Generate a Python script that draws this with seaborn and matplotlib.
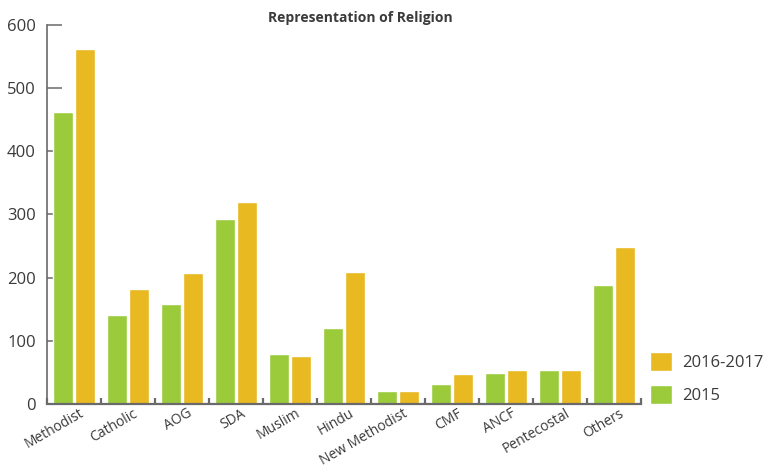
import matplotlib
matplotlib.use("Agg")
import matplotlib.pyplot as plt
import matplotlib.transforms as mtransforms
import seaborn as sns
import pandas as pd
from matplotlib.patches import Patch
from matplotlib.ticker import FixedLocator

# Membership counts by religion
religions = ["Methodist", "Catholic", "AOG", "SDA", "Muslim", "Hindu",
             "New Methodist", "CMF", "ANCF", "Pentecostal", "Others"]
counts_2015 = [462, 141, 158, 293, 79, 120, 21, 32, 49, 54, 188]
counts_2016_2017 = [562, 182, 207, 320, 76, 209, 21, 47, 54, 54, 248]
periods = ["2015", "2016-2017"]
y_ticks = [0, 100, 200, 300, 400, 500, 600]

GREEN = "#9bca3b"
YELLOW = "#e8b921"
TEXT = "#3a3a3a"
AXIS = "#6a6a6a"

df = pd.DataFrame({
    "religion": religions * 2,
    "period": [periods[0]] * len(religions) + [periods[1]] * len(religions),
    "count": counts_2015 + counts_2016_2017,
})

sns.set_theme(style="white")
plt.rcParams["font.family"] = ["Open Sans", "DejaVu Sans"]

fig = plt.figure(figsize=(7.76, 4.69), dpi=100)
W, H = 776, 469
ax = fig.add_axes([47 / W, (H - 404) / H, (641 - 47) / W, (404 - 25) / H])

sns.barplot(data=df, x="religion", y="count", hue="period",
            order=religions, hue_order=periods,
            palette=[GREEN, YELLOW], width=0.78, gap=0.05,
            saturation=1, errorbar=None, legend=False, ax=ax)

ax.set_axisbelow(True)
ax.set_xlim(-0.5, len(religions) - 0.5)
ax.set_ylim(0, 600)
ax.set_xlabel("")
ax.set_ylabel("")

for s in ["top", "right"]:
    ax.spines[s].set_visible(False)
ax.spines["left"].set_color(AXIS)
ax.spines["left"].set_linewidth(1.2)
ax.spines["bottom"].set_color(AXIS)
ax.spines["bottom"].set_linewidth(1.6)

ax.set_yticks(y_ticks)
ax.tick_params(axis="y", direction="in", length=11, width=1.1, color=AXIS,
               labelsize=12, labelcolor=TEXT, pad=8, left=True)

# Category separators on the baseline
ax.xaxis.set_minor_locator(FixedLocator([i - 0.5 for i in range(len(religions) + 1)]))
ax.tick_params(axis="x", which="minor", direction="in", length=4, width=1.6,
               color=AXIS, bottom=True)
ax.tick_params(axis="x", which="major", length=0, pad=1.5,
               labelsize=10, labelcolor=TEXT)
shift = mtransforms.ScaledTranslation(5 / 100, 0, fig.dpi_scale_trans)
for lbl in ax.get_xticklabels():
    lbl.set_rotation(30)
    lbl.set_ha("right")
    lbl.set_rotation_mode("anchor")
    lbl.set_transform(lbl.get_transform() + shift)

fig.text(360 / W, 1 - 18 / H, "Representation of Religion", ha="center",
         va="center", fontsize=10, fontweight="bold", color=TEXT)

handles = [Patch(facecolor=YELLOW, label="2016-2017"),
           Patch(facecolor=GREEN, label="2015")]
fig.legend(handles=handles, loc="lower left",
           bbox_to_anchor=(650 / W, (H - 404) / H), frameon=False,
           fontsize=12, labelcolor=TEXT, borderpad=0, borderaxespad=0,
           handlelength=1.32, handleheight=1.32, handletextpad=0.6,
           labelspacing=0.84)

fig.savefig("out.png", dpi=100, facecolor="white")
